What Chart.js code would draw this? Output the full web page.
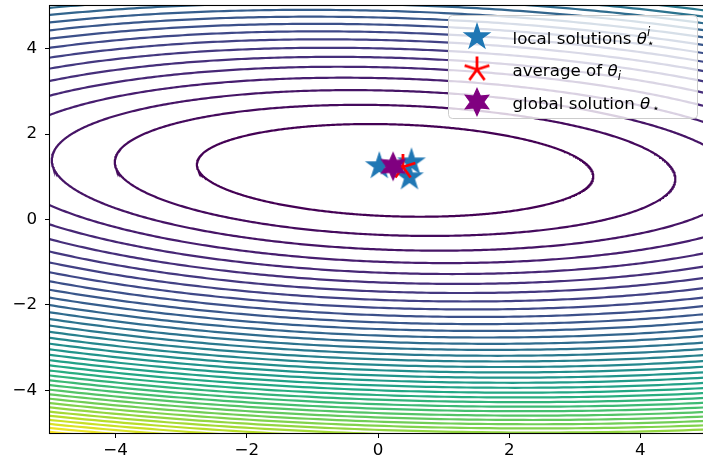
<!DOCTYPE html>
<html>
<head>
<meta charset="utf-8">
<script src="https://cdn.jsdelivr.net/npm/chart.js@4.4.1/dist/chart.umd.min.js"></script>
<style>
  html, body { margin: 0; padding: 0; background: #fff; overflow: hidden; }
  #wrap { width: 703px; height: 465px; overflow: hidden; position: relative; }
  #chart { position: absolute; left: 0; top: 0; }
</style>
</head>
<body>
<div id="wrap"><canvas id="chart" width="712" height="465"></canvas></div>
<script>
// axis ticks
const xTicks = [-4, -2, 0, 2, 4];
const yTicks = [-4, -2, 0, 2, 4];

// quadratic bowl: f = A dx^2 + B dy^2 + C dx dy
const bowlCenter = [0.26, 1.15];
const bowlCoef   = [0.1114, 0.863, 0.0794];
const levels = [1, 2, 3, 4, 5, 6, 7, 8, 9, 10, 11, 12, 13, 14, 15, 16, 17, 18, 19,
                20, 21, 22, 23, 24, 25, 26, 27, 28, 29, 30, 31, 32, 33, 34, 35, 36, 37, 38];

// markers
const localX   = [0.02, 0.51, 0.48];
const localY   = [1.25, 1.34, 0.99];
const averageX = [0.38];
const averageY = [1.23];
const globalX  = [0.23];
const globalY  = [1.245];

const FONT = "'DejaVu Sans', sans-serif";
const FS = 16.7;

const viridisStops = ['#440154', '#482475', '#414487', '#355f8d', '#2a788e', '#21918c',
                      '#22a884', '#44bf70', '#7ad151', '#bddf26', '#fde725'];
function hexRgb(h) { return [1, 3, 5].map(i => parseInt(h.substr(i, 2), 16)); }
function viridis(t) {
  const p = Math.max(0, Math.min(1, t)) * 10;
  const i = Math.min(9, Math.floor(p)), f = p - i;
  const a = hexRgb(viridisStops[i]), b = hexRgb(viridisStops[i + 1]);
  const c = a.map((v, k) => Math.round(v + (b[k] - v) * f));
  return `rgb(${c[0]},${c[1]},${c[2]})`;
}

// level set of the bowl is an ellipse; walk it through its principal axes
function levelCurve(L) {
  const [A, B, C] = bowlCoef;
  const b = C / 2;
  const th = 0.5 * Math.atan2(2 * b, A - B);
  const c = Math.cos(th), s = Math.sin(th);
  const l1 = A * c * c + 2 * b * s * c + B * s * s;
  const l2 = A * s * s - 2 * b * s * c + B * c * c;
  const pts = [];
  const n = 720;
  for (let i = 0; i <= n; i++) {
    const t = 2 * Math.PI * i / n;
    const al = Math.sqrt(L / l1) * Math.cos(t);
    const be = Math.sqrt(L / l2) * Math.sin(t);
    pts.push({ x: bowlCenter[0] + al * c - be * s, y: bowlCenter[1] + al * s + be * c });
  }
  return pts;
}

function markerCanvas(size, draw) {
  const cv = document.createElement('canvas');
  cv.width = size; cv.height = size;
  const g = cv.getContext('2d');
  g.translate(size / 2, size / 2);
  draw(g);
  return cv;
}
function starPath(g, n, R, r) {
  g.beginPath();
  for (let i = 0; i < 2 * n; i++) {
    const a = -Math.PI / 2 + i * Math.PI / n;
    const rr = i % 2 === 0 ? R : r;
    g.lineTo(rr * Math.cos(a), rr * Math.sin(a));
  }
  g.closePath();
}
const blueStar = markerCanvas(32, g => {
  starPath(g, 5, 13, 13 * 0.382);
  g.fillStyle = '#1f77b4'; g.fill();
  g.lineWidth = 1.3; g.strokeStyle = '#1f77b4'; g.stroke();
});
const redAsterisk = markerCanvas(32, g => {
  g.strokeStyle = '#ff0000'; g.lineWidth = 2.8;
  g.beginPath();
  for (let i = 0; i < 5; i++) {
    const a = -Math.PI / 2 + i * 2 * Math.PI / 5;
    g.moveTo(0, 0); g.lineTo(13 * Math.cos(a), 13 * Math.sin(a));
  }
  g.stroke();
});
const purpleStar = markerCanvas(32, g => {
  starPath(g, 6, 13.5, 6.8);
  g.fillStyle = '#800080'; g.fill();
  g.lineWidth = 1.2; g.strokeStyle = '#800080'; g.stroke();
});

const contourSets = levels.map((L, k) => ({
  data: levelCurve(L),
  showLine: true,
  borderColor: viridis(k / (levels.length - 1)),
  borderWidth: 2.2,
  pointRadius: 0,
  clip: 0,
  order: 10
}));

const toPts = (xs, ys) => xs.map((x, i) => ({ x, y: ys[i] }));

const spines = {
  id: 'spines',
  afterDatasetsDraw(chart) {
    const { ctx, chartArea: a } = chart;
    ctx.save();
    ctx.strokeStyle = '#000'; ctx.lineWidth = 1.1;
    ctx.strokeRect(a.left - 0.5, a.top - 0.5, a.right - a.left + 1, a.bottom - a.top + 1);
    ctx.restore();
  }
};

// legend drawn by hand so the mathtext sub/superscripts come out right
const legendRows = [
  { icon: blueStar,   parts: [['local solutions ', 0, 1, 0], ['θ', 1, 1, 0], ['i', 1, 0.7, -7.5, 'keep'], ['⋆', 0, 0.7, 3.5]] },
  { icon: redAsterisk, parts: [['average of ', 0, 1, 0], ['θ', 1, 1, 0], ['i', 1, 0.7, 3.5]] },
  { icon: purpleStar, parts: [['global solution ', 0, 1, 0], ['θ', 1, 1, 0], ['⋆', 0, 0.7, 3, 'gap']] }
];
const mathLegend = {
  id: 'mathLegend',
  afterDraw(chart) {
    const { ctx, chartArea: a } = chart;
    const w = 249, h = 103;
    const x0 = a.right - 8.5 - w, y0 = a.top + 9.5;
    ctx.save();
    ctx.beginPath();
    ctx.roundRect(x0, y0, w, h, 4);
    ctx.fillStyle = 'rgba(255,255,255,0.8)';
    ctx.fill();
    ctx.strokeStyle = '#cccccc'; ctx.lineWidth = 1;
    ctx.stroke();
    legendRows.forEach((row, r) => {
      const cy = y0 + 21.5 + r * 32.5;
      ctx.drawImage(row.icon, x0 + 28.5 - 16, cy - 16);
      let x = x0 + 64;
      let keepX = null;
      ctx.fillStyle = '#000';
      ctx.textBaseline = 'alphabetic';
      row.parts.forEach(([txt, ital, sc, dy, flag]) => {
        ctx.font = `${ital ? 'italic ' : ''}${(FS * sc).toFixed(1)}px ${FONT}`;
        if (flag === 'gap') x += 2;
        const px = keepX !== null ? keepX : x;
        ctx.fillText(txt, px, cy + 6.5 + dy);
        const adv = ctx.measureText(txt).width;
        if (flag === 'keep') { keepX = x; x += adv; }
        else if (keepX !== null) { x = Math.max(x, keepX + adv); keepX = null; }
        else x += adv;
      });
    });
    ctx.restore();
  }
};

const minusLabel = v => (v < 0 ? '\u2212' + Math.abs(v) : String(v));
// drop the half-label overhang chart.js reserves at the axis ends
const noEdgePad = s => { s.paddingTop = 0; s.paddingBottom = 0; s.paddingLeft = 0; s.paddingRight = 0; };

new Chart(document.getElementById('chart'), {
  type: 'scatter',
  data: {
    datasets: [
      ...contourSets,
      { label: 'local solutions', data: toPts(localX, localY), pointStyle: blueStar, pointRadius: 14, order: 3, clip: false },
      { label: 'average of θi', data: toPts(averageX, averageY), pointStyle: redAsterisk, pointRadius: 14, order: 2, clip: false },
      { label: 'global solution', data: toPts(globalX, globalY), pointStyle: purpleStar, pointRadius: 14, order: 1, clip: false }
    ]
  },
  options: {
    responsive: false,
    animation: false,
    devicePixelRatio: 1,
    events: [],
    layout: { autoPadding: false, padding: { left: 0, top: 6, right: 6, bottom: 0 } },
    plugins: { legend: { display: false }, tooltip: { enabled: false } },
    scales: {
      x: {
        type: 'linear', min: -5, max: 5,
        afterBuildTicks: s => { s.ticks = xTicks.map(v => ({ value: v })); },
        afterFit: s => { s.height = 32; noEdgePad(s); },
        grid: { drawOnChartArea: false, drawTicks: true, tickLength: 5, tickColor: '#000', tickWidth: 1 },
        border: { display: false },
        ticks: { color: '#000', font: { family: FONT, size: FS }, padding: 3, maxRotation: 0, callback: minusLabel }
      },
      y: {
        type: 'linear', min: -5, max: 5,
        afterBuildTicks: s => { s.ticks = yTicks.map(v => ({ value: v })); },
        afterFit: s => { s.width = 50; noEdgePad(s); },
        grid: { drawOnChartArea: false, drawTicks: true, tickLength: 5, tickColor: '#000', tickWidth: 1 },
        border: { display: false },
        ticks: { color: '#000', font: { family: FONT, size: FS }, padding: 8, callback: minusLabel }
      }
    }
  },
  plugins: [spines, mathLegend]
});
</script>
</body>
</html>
